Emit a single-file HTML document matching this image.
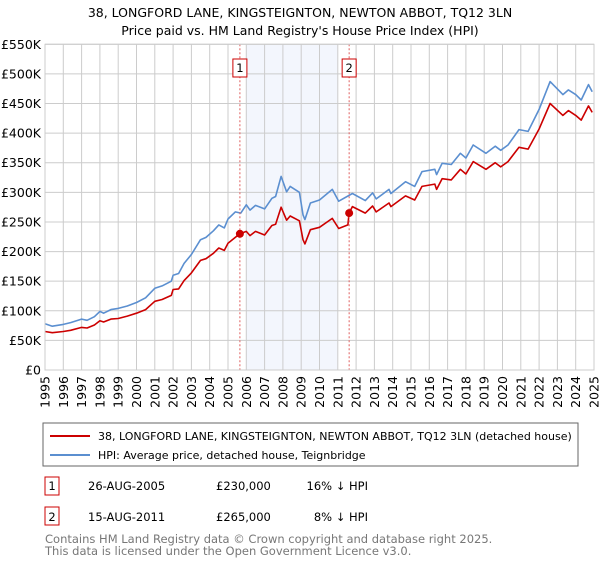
<!DOCTYPE html>
<html><head><meta charset="utf-8"><style>
body{margin:0;background:#fff;font-family:"Liberation Sans","DejaVu Sans",sans-serif;}
svg text{font-family:"DejaVu Sans","Liberation Sans",sans-serif;}
</style></head><body>
<svg id="c" width="600" height="560" viewBox="0 0 600 560" xmlns="http://www.w3.org/2000/svg">
<text x="300" y="17" text-anchor="middle" font-size="12.5">38, LONGFORD LANE, KINGSTEIGNTON, NEWTON ABBOT, TQ12 3LN</text>
<text x="300" y="35" text-anchor="middle" font-size="12.5">Price paid vs. HM Land Registry's House Price Index (HPI)</text>
<g id="grid"></g><g id="marks"></g>
<rect x="43" y="423" width="535" height="43" fill="#fff" stroke="#666"/>
<line x1="50" y1="436" x2="90" y2="436" stroke="#cc0000" stroke-width="2"/>
<text x="98" y="440" font-size="11">38, LONGFORD LANE, KINGSTEIGNTON, NEWTON ABBOT, TQ12 3LN (detached house)</text>
<line x1="50" y1="455" x2="90" y2="455" stroke="#5b8fd0" stroke-width="2"/>
<text x="98" y="459" font-size="11">HPI: Average price, detached house, Teignbridge</text>
<g font-size="11.5">
<rect x="45" y="477" width="14" height="18" fill="#fff" stroke="#cc0000"/>
<text x="52" y="490" text-anchor="middle">1</text>
<text x="88" y="490">26-AUG-2005</text>
<text x="216" y="490">£230,000</text>
<text x="368" y="490" text-anchor="end">16% ↓ HPI</text>
<rect x="45" y="507" width="14" height="18" fill="#fff" stroke="#cc0000"/>
<text x="52" y="521" text-anchor="middle">2</text>
<text x="88" y="521">15-AUG-2011</text>
<text x="216" y="521">£265,000</text>
<text x="368" y="521" text-anchor="end">8% ↓ HPI</text>
</g>
<text x="45" y="543" font-size="11.5" fill="#777">Contains HM Land Registry data © Crown copyright and database right 2025.</text>
<text x="45" y="555" font-size="11.5" fill="#777">This data is licensed under the Open Government Licence v3.0.</text>
</svg>
<script>
const yTicks=[0,50,100,150,200,250,300,350,400,450,500,550];
const yTickLabels=["£0","£50K","£100K","£150K","£200K","£250K","£300K","£350K","£400K","£450K","£500K","£550K"];
const xYears=[1995,1996,1997,1998,1999,2000,2001,2002,2003,2004,2005,2006,2007,2008,2009,2010,2011,2012,2013,2014,2015,2016,2017,2018,2019,2020,2021,2022,2023,2024,2025];
const hpiYears=[1995.0,1995.4,1996.0,1996.4,1997.0,1997.3,1997.7,1998.0,1998.2,1998.6,1999.0,1999.5,2000.0,2000.5,2001.0,2001.4,2001.9,2002.0,2002.3,2002.6,2003.0,2003.5,2003.8,2004.2,2004.5,2004.8,2005.0,2005.4,2005.7,2006.0,2006.2,2006.5,2007.0,2007.4,2007.6,2007.9,2008.2,2008.4,2008.9,2009.1,2009.2,2009.5,2010.0,2010.7,2011.05,2011.8,2012.5,2012.9,2013.1,2013.8,2013.9,2014.7,2015.2,2015.6,2016.3,2016.4,2016.7,2017.2,2017.7,2018.0,2018.4,2019.1,2019.6,2019.9,2020.3,2020.9,2021.4,2022.0,2022.6,2023.3,2023.6,2024.0,2024.3,2024.7,2024.9];
const hpiValues=[78,74,77,80,86,84,90,99,96,102,104,108,114,122,138,142,150,160,163,180,195,220,224,235,245,240,255,267,265,279,270,278,272,290,293,327,301,310,300,262,254,282,287,305,285,298,286,299,289,305,298,318,310,335,339,330,349,347,366,358,380,366,378,371,380,406,403,440,487,465,473,465,456,482,470];
const priceYears=[1995.0,1995.4,1996.0,1996.4,1997.0,1997.3,1997.7,1998.0,1998.2,1998.6,1999.0,1999.5,2000.0,2000.5,2001.0,2001.4,2001.9,2002.0,2002.3,2002.6,2003.0,2003.5,2003.8,2004.2,2004.5,2004.8,2005.0,2005.4,2005.65,2006.0,2006.2,2006.5,2007.0,2007.4,2007.6,2007.9,2008.2,2008.4,2008.9,2009.1,2009.2,2009.5,2010.0,2010.7,2011.05,2011.55,2011.62,2011.8,2012.5,2012.9,2013.1,2013.8,2013.9,2014.7,2015.2,2015.6,2016.3,2016.4,2016.7,2017.2,2017.7,2018.0,2018.4,2019.1,2019.6,2019.9,2020.3,2020.9,2021.4,2022.0,2022.6,2023.3,2023.6,2024.0,2024.3,2024.7,2024.9];
const priceValues=[65,63,65,67,72,71,76,83,81,86,87,91,96,102,116,119,126,136,137,151,164,185,188,197,206,202,214,224,230,234,227,234,228,244,246,275,253,260,252,220,213,237,241,256,239,245,265,276,265,277,267,282,276,294,287,310,314,305,323,321,339,331,352,339,350,343,352,376,373,407,450,430,438,430,422,446,435];
const saleYears=[2005.65,2011.62];
const saleValues=[230,265];
const saleLabels=["1","2"];
const X0=45,X1=594,Y0=370,Y1=44.3;
const xs=y=>X0+(y-1995)/30*(X1-X0);
const ys=v=>Y0-v/550*(Y0-Y1);
const NS="http://www.w3.org/2000/svg";
function mk(p,t,a){const e=document.createElementNS(NS,t);for(const k in a)e.setAttribute(k,a[k]);p.appendChild(e);return e;}
const g=document.getElementById('grid'),m=document.getElementById('marks');
const shade=mk(g,'rect',{x:xs(2006),y:Y1,width:xs(2011)-xs(2006),height:Y0-Y1,fill:'#f3f6fd'});


yTicks.forEach((v,i)=>{
 const l=mk(g,'line',{x1:X0,x2:X1,y1:ys(v),y2:ys(v),stroke:'#ccc'});
 
 
 const t=mk(g,'text',{x:X0-4,y:ys(v)+4.5,'text-anchor':'end','font-size':'12.5'});t.textContent=yTickLabels[i];
 
 
});
xYears.forEach(yr=>{
 const l=mk(g,'line',{x1:xs(yr),x2:xs(yr),y1:Y1,y2:Y0,stroke:'#ccc'});
 
 
 const t=mk(g,'text',{x:0,y:0,'text-anchor':'end','font-size':'12.5',transform:`translate(${xs(yr)+4.5},376) rotate(-90)`});t.textContent=yr;
 
 
});
function line(xa,va,col,name){
 const d=xa.map((y,i)=>(i?'L':'M')+xs(y).toFixed(1)+','+ys(va[i]).toFixed(1)).join('');
 const p=mk(m,'path',{d,fill:'none',stroke:col,'stroke-width':1.6,'stroke-linejoin':'round'});
 
 
}
line(hpiYears,hpiValues,'#5b8fd0','hpi-line');
line(priceYears,priceValues,'#cc0000','price-paid-line');
saleYears.forEach((yr,i)=>{
 const d=mk(m,'line',{x1:xs(yr),x2:xs(yr),y1:Y1,y2:Y0,stroke:'#e06060','stroke-dasharray':'2,2'});
 
 
 const c=mk(m,'circle',{cx:xs(yr),cy:ys(saleValues[i]),r:4,fill:'#cc0000'});
 
 
 const b=mk(m,'rect',{x:xs(yr)-7,y:59,width:14,height:18,fill:'#fff',stroke:'#cc0000'});
 
 
 const t=mk(m,'text',{x:xs(yr),y:72,'text-anchor':'middle','font-size':'11.5'});t.textContent=saleLabels[i];
 
 
});
const ax=mk(m,'rect',{x:X0,y:Y1,width:X1-X0,height:Y0-Y1,fill:'none',stroke:'#ccc'});


</script>
</body></html>
